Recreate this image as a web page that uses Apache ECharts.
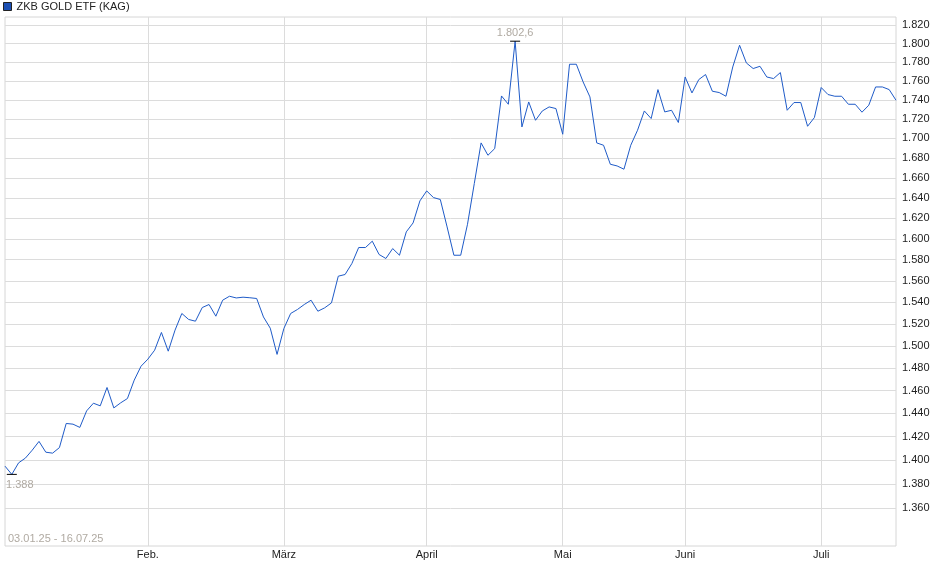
<!DOCTYPE html>
<html><head><meta charset="utf-8">
<script src="https://cdn.jsdelivr.net/npm/echarts@6/dist/echarts.min.js"></script>
<style>html,body{margin:0;padding:0;background:#fff}#c{width:940px;height:579px}</style>
</head><body><div id="c"></div>
<script>
const seriesName = 'ZKB GOLD ETF (KAG)';
const prices = [
1394.9,1388,1397.7,1401.7,1408.4,1415.9,1406.7,1405.9,1410.6,1431.3,
1430.7,1427.9,1442.2,1448.9,1446.6,1462.7,1444.8,1449.2,1453.0,1469.2,
1481.6,1487.9,1496.0,1512.1,1495.1,1514.2,1529.5,1524.0,1522.4,1535.0,
1537.8,1527.0,1541.8,1545.5,1543.9,1544.6,1544.1,1543.4,1526.3,1516.0,
1492.2,1515.7,1529.5,1533.2,1537.8,1541.8,1531.6,1534.7,1539.3,1564.3,
1565.9,1576.3,1591.6,1591.6,1597.7,1584.9,1581.1,1590.6,1584.2,1606.7,
1615.4,1637.0,1646.9,1640.3,1638.4,1611.5,1584.2,1584.2,1614.1,1654.3,
1695.3,1682.7,1689.5,1744.0,1735.3,1802.6,1711.7,1737.7,1718.6,1728.3,
1732.5,1730.8,1704.2,1777.7,1777.7,1758.8,1743.0,1695.3,1692.9,1673.6,
1671.9,1668.6,1692.9,1708.3,1728.3,1720.4,1750.7,1727.3,1729.0,1716.3,
1764.1,1747.2,1761.3,1766.7,1749.0,1747.6,1743.7,1774.8,1798.2,1779.1,
1773.1,1775.5,1764.1,1762.4,1768.8,1729.0,1737.1,1737.1,1712.4,1721.4,
1752.9,1745.5,1743.7,1743.7,1735.3,1735.3,1727.0,1734.3,1753.5,1753.5,
1750.7,1739.5
];
const monthIndex = [21, 41, 62, 82, 100, 120];
const monthLabels = ['Feb.', 'März', 'April', 'Mai', 'Juni', 'Juli'];
const yTicks = [1360,1380,1400,1420,1440,1460,1480,1500,1520,1540,1560,1580,1600,1620,1640,1660,1680,1700,1720,1740,1760,1780,1800,1820];
const dateRangeText = '03.01.25 - 16.07.25';
const minPoint = { index: 1, value: 1388, label: '1.388' };
const maxPoint = { index: 75, value: 1802.6, label: '1.802,6' };
const yRange = [1329.3, 1829.1];

const FONT = '"Liberation Sans", Arial, sans-serif';
const categories = prices.map((_, i) => String(i));
const lnData = prices.map(v => Math.log(v));
const fmtThousands = n => {
  n = Math.round(n);
  return Math.floor(n / 1000) + '.' + String(n % 1000).padStart(3, '0');
};
const isMonth = idx => monthIndex.indexOf(idx) >= 0;

const chart = echarts.init(document.getElementById('c'), null, { renderer: 'canvas' });
chart.setOption({
  animation: false,
  backgroundColor: '#fff',
  textStyle: { fontFamily: FONT },
  legend: {
    left: 0, top: 0, padding: [1, 3],
    itemWidth: 8, itemHeight: 8, itemGap: 4,
    icon: 'rect',
    textStyle: { fontSize: 11, color: '#222', fontFamily: FONT },
    data: [{ name: seriesName, itemStyle: { color: '#1c4fb3', borderColor: '#222', borderWidth: 1 } }]
  },
  grid: { left: 5, right: 44, top: 17, bottom: 33, outerBoundsMode: 'none', containLabel: false,
          show: true, borderColor: '#d6d6d6', borderWidth: 1 },
  xAxis: {
    type: 'category', boundaryGap: false, data: categories,
    axisLine: { show: false }, axisTick: { show: false },
    axisLabel: { interval: (idx) => isMonth(idx), formatter: (v, idx) => monthLabels[monthIndex.indexOf(Number(v))] || '',
                 color: '#222', fontSize: 11, margin: 3, fontFamily: FONT },
    splitLine: { show: true, interval: (idx) => isMonth(idx), lineStyle: { color: '#dcdcdc', width: 1 } }
  },
  yAxis: {
    type: 'value', position: 'right', scale: true,
    min: Math.log(yRange[0]), max: Math.log(yRange[1]),
    axisLine: { show: false },
    axisTick: { show: false, customValues: yTicks.map(v => Math.log(v)) },
    axisLabel: { customValues: yTicks.map(v => Math.log(v)), formatter: v => fmtThousands(Math.exp(v)),
                 color: '#222', fontSize: 11, margin: 6, fontFamily: FONT },
    splitLine: { show: true, lineStyle: { color: '#dcdcdc', width: 1 } }
  },
  graphic: [{
    type: 'text', left: 8, top: 533,
    style: { text: dateRangeText, fill: '#b0aaa2', font: '11px ' + FONT }
  }],
  series: [{
    name: seriesName, type: 'line', data: lnData,
    showSymbol: false, symbol: 'none',
    lineStyle: { color: '#1f5bc8', width: 1 },
    itemStyle: { color: '#1c4fb3' },
    markPoint: {
      symbol: 'rect', symbolSize: [10, 1],
      itemStyle: { color: '#000' },
      label: { show: true, color: '#b0aaa2', fontSize: 11, fontFamily: FONT },
      data: [
        { coord: [String(minPoint.index), Math.log(minPoint.value)],
          label: { position: 'bottom', formatter: minPoint.label, offset: [8, 1], distance: 4 } },
        { coord: [String(maxPoint.index), Math.log(maxPoint.value)],
          label: { position: 'top', formatter: maxPoint.label, distance: 2 } }
      ]
    }
  }]
});
</script></body></html>
